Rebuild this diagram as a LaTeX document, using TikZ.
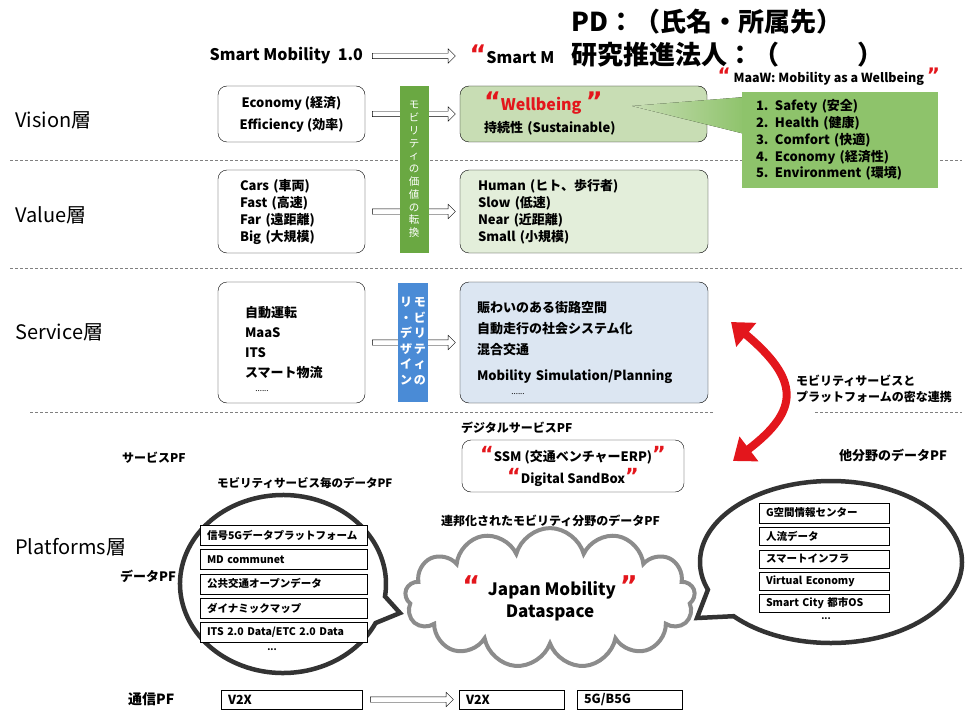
\documentclass[tikz,border=0pt]{standalone}
\usepackage{fontspec}
\setmainfont{Noto Sans CJK JP}
\newfontfamily\quotefont{DejaVu Sans}[Scale=1.6]
\usetikzlibrary{shapes.arrows,shapes.symbols,arrows.meta,calc,positioning}
\definecolor{cRed}{HTML}{E3161C}
\definecolor{cGreen}{HTML}{6AA842}
\definecolor{cLeaf}{HTML}{8EC36B}
\definecolor{cWell}{HTML}{C8DDB4}
\definecolor{cMint}{HTML}{E3EEDA}
\definecolor{cSky}{HTML}{DCE6F2}
\definecolor{cBlue}{HTML}{4A8BD6}
\definecolor{cInk}{HTML}{333333}
\definecolor{cCloud}{HTML}{8C8C8C}
\newcommand{\qo}{\textcolor{cRed}{{\quotefont\bfseries “}}}
\newcommand{\qc}{\textcolor{cRed}{{\quotefont\bfseries ”}}}
\tikzset{
  box/.style={draw, rounded corners=9pt, inner ysep=0pt, align=left},
  hollow/.style={single arrow, draw, fill=white, inner sep=2.5pt, minimum height=83pt, single arrow head extend=4.5pt},
  layer/.style={anchor=west, inner sep=2pt, font=\fontsize{20}{24}\selectfont},
  tag/.style={anchor=west, inner sep=1pt, font=\bfseries\fontsize{12}{16}\selectfont},
  sepline/.style={gray, thin, dash pattern=on 3pt off 2pt},
  pfbox/.style={draw, fill=white, inner xsep=7pt, inner ysep=0pt, text width=153pt, minimum height=20pt, align=left, font=\bfseries\fontsize{10.5}{12}\selectfont},
  pfr/.style={draw, fill=white, inner xsep=7pt, inner ysep=0pt, text width=116pt, minimum height=18pt, align=left, font=\bfseries\fontsize{10.5}{12}\selectfont},
  cbox/.style={draw, fill=white, inner xsep=7pt, inner ysep=0pt, minimum height=19pt, align=left, font=\bfseries\fontsize{12.5}{14}\selectfont},
  bubble/.style={draw=cInk, line width=4.5pt, fill=white},
  link/.style={cRed, line width=8pt, {Triangle[length=20pt,width=30pt]}-{Triangle[length=20pt,width=30pt]}}
}

\begin{document}
\begin{tikzpicture}[x=1pt, y=-1pt]
\useasboundingbox (0,0) rectangle (968,714);
% layer separators
\draw[sepline] (10,160) -- (962,160);
\draw[sepline] (10,268) -- (962,268);
\draw[sepline] (30,412) -- (713,412);
\draw[sepline] (815,412) -- (962,412);
% layer names
\node[layer] (lVis) at (13,120) {Vision層};
\node[layer] (lVal) at (13,215) {Value層};
\node[layer] (lSrv) at (13,332) {Service層};
\node[layer] (lPf) at (13,547) {Platforms層};
% header
\node[anchor=west, font=\bfseries\fontsize{16}{18}\selectfont] (sm1) at (206,56) {Smart Mobility\ \ 1.0};
\node[anchor=west, font=\bfseries\fontsize{16}{18}\selectfont] (sm2) at (466,54) {\qo Smart M};
\node[anchor=west, font=\bfseries\fontsize{26}{30}\selectfont] (pd) at (568,22) {PD：（氏名・所属先）};
\node[anchor=west, font=\bfseries\fontsize{26}{30}\selectfont] (org) at (568,55) {研究推進法人：（　　　）};
% vision / value / service boxes
\node[box, minimum width=147pt, minimum height=56pt, align=center, font=\bfseries\fontsize{13}{22}\selectfont] (visL) at (291.5,114) {Economy (経済)\\Efficiency (効率)};
\node[box, fill=cWell, inner xsep=24pt, text width=199pt, minimum height=56pt, font=\bfseries\fontsize{13}{22}\selectfont] (visR) at (583.5,114) {\textcolor{cRed}{\fontsize{16}{22}\selectfont \qo Wellbeing \qc}\\持続性 (Sustainable)};
\node[box, inner xsep=22pt, text width=103pt, minimum height=83pt, font=\bfseries\fontsize{13}{17}\selectfont] (valL) at (291.5,211.5) {Cars (車両)\\Fast (高速)\\Far (遠距離)\\Big (大規模)};
\node[box, fill=cMint, inner xsep=18pt, text width=212pt, minimum height=83pt, font=\bfseries\fontsize{13}{17}\selectfont] (valR) at (584,211.5) {Human (ヒト、歩行者)\\Slow (低速)\\Near (近距離)\\Small (小規模)};
\node[box, inner xsep=27pt, text width=93pt, minimum height=121pt, font=\bfseries\fontsize{13}{20}\selectfont] (srvL) at (291.5,342.5) {自動運転\\MaaS\\ITS\\スマート物流};
\node[font=\fontsize{8}{9}\selectfont] (srvLdots) at (262,391) {......};
\node[box, fill=cSky, inner xsep=17pt, text width=214pt, minimum height=121pt, font=\bfseries\fontsize{13}{21}\selectfont] (srvR) at (584,342.5) {賑わいのある街路空間\\自動走行の社会システム化\\混合交通\\[5pt]Mobility Simulation/Planning};
\node[font=\fontsize{8}{9}\selectfont] (srvRdots) at (518,394) {......};
% hollow arrows
\node[hollow] (arrVis) at ($(visL.east)!.5!(visR.west)$) {};
\node[hollow] (arrVal) at ($(valL.east)!.5!(valR.west)$) {};
\node[hollow] (arrSrv) at ($(srvL.east)!.5!(srvR.west)$) {};
\node[hollow] (arrTop) at (arrVis |- sm1) {};
% bands
\node[fill=cGreen, minimum width=29pt, minimum height=166pt, inner sep=0pt, align=center, text=white, font=\fontsize{10.5}{12.8}\selectfont] (valBand) at (414,169.5) {モ\\ビ\\リ\\テ\\ィ\\の\\価\\値\\の\\転\\換};
\node[fill=cBlue, minimum width=30pt, minimum height=119pt, inner sep=0pt, text=white, font=\bfseries\fontsize{12}{15.5}\selectfont] (redesign) at (413,342.5) {\begin{tabular}{@{}c@{\hspace{2pt}}c@{}}リ&モ\\・&ビ\\デ&リ\\ザ&テ\\イ&ィ\\ン&の\end{tabular}};
% MaaW callout
\node[anchor=west, font=\bfseries\fontsize{12.5}{14}\selectfont] (maawHd) at (714,77) {\qo\ MaaW: Mobility as a Wellbeing \qc};
\fill[left color=cWell, right color=cLeaf] (632,106) -- (745,97) -- (745,134) -- cycle;
\node[fill=cLeaf, inner xsep=14pt, text width=168pt, minimum height=96pt, align=left, font=\bfseries\fontsize{13}{16.8}\selectfont] (maaw) at (840,140) {1. Safety (安全)\\2. Health (健康)\\3. Comfort (快適)\\4. Economy (経済性)\\5. Environment (環境)};
% service <-> platform link
\coordinate (linkTop) at (731,322);
\coordinate (linkBot) at (733,461);
\draw[link] (linkTop) .. controls (800,380) and (800,410) .. (linkBot);
\node[tag, align=left] (linkTxt) at (795,389) {モビリティサービスと\\プラットフォームの密な連携};
% platform labels
\node[tag] (svcPF) at (121,458) {サービスPF};
\node[tag] (digPF) at (460,428) {デジタルサービスPF};
\node[box, minimum width=222pt, minimum height=52pt, align=center, font=\bfseries\fontsize{13}{22}\selectfont] (digBox) at (573,466) {\qo SSM (交通ベンチャーERP)\qc\\\qo Digital SandBox\qc};
\node[tag, font=\bfseries\fontsize{13}{16}\selectfont] (othPF) at (838,455) {他分野のデータPF};
\node[tag, font=\bfseries\fontsize{11.5}{16}\selectfont] (mobPF) at (216,483) {モビリティサービス毎のデータPF};
\node[tag] (fedPF) at (440,521) {連邦化されたモビリティ分野のデータPF};
\node[tag, font=\bfseries\fontsize{13}{16}\selectfont] (dataPF) at (119,576) {データPF};
\node[tag, font=\bfseries\fontsize{14}{16}\selectfont] (comPF) at (127,699) {通信PF};
% speech bubbles and cloud
\draw[bubble] (400,613) -- ([shift={(26:103 and 89)}]283,584) arc[start angle=26, end angle=368, x radius=103, y radius=89] -- cycle;
\draw[bubble] (697,618) -- ([shift={(138:131 and 81)}]831,562) arc[start angle=138, end angle=-200, x radius=131, y radius=81] -- cycle;
\node[cloud, cloud puffs=13, aspect=2.7, draw=cCloud, line width=4pt, fill=white, minimum width=290pt, minimum height=98pt, align=center, font=\bfseries\fontsize{17}{22}\selectfont] (jmds) at (550,598) {\qo\ \ Japan Mobility \qc\\Dataspace};
% mobility data platforms
\node[pfbox] (dl1) at (283.5,535) {信号5Gデータプラットフォーム};
\node[pfbox, below=4pt of dl1] (dl2) {MD communet};
\node[pfbox, below=4pt of dl2] (dl3) {公共交通オープンデータ};
\node[pfbox, below=4pt of dl3] (dl4) {ダイナミックマップ};
\node[pfbox, below=4pt of dl4] (dl5) {ITS 2.0 Data/ETC 2.0 Data};
\node[font=\bfseries\small] (dlMore) at (272,650) {...};
% other field data platforms
\node[pfr, minimum height=20pt] (dr1) at (824,513) {G空間情報センター};
\node[pfr, below=4pt of dr1] (dr2) {人流データ};
\node[pfr, below=4pt of dr2] (dr3) {スマートインフラ};
\node[pfr, below=4pt of dr3] (dr4) {Virtual Economy};
\node[pfr, below=4pt of dr4] (dr5) {Smart City 都市OS};
\node[font=\bfseries\small] (drMore) at (826,619) {...};
% communication
\node[cbox, text width=127pt] (v2xL) at (291.5,699.5) {V2X};
\node[cbox, text width=91pt] (v2xR) at (511.5,699.5) {V2X};
\node[cbox, text width=91pt] (g5) at (629.5,699.5) {5G/B5G};
\node[hollow] (arrCom) at ($(v2xL.east)!.5!(v2xR.west)$) {};
\end{tikzpicture}
\end{document}
